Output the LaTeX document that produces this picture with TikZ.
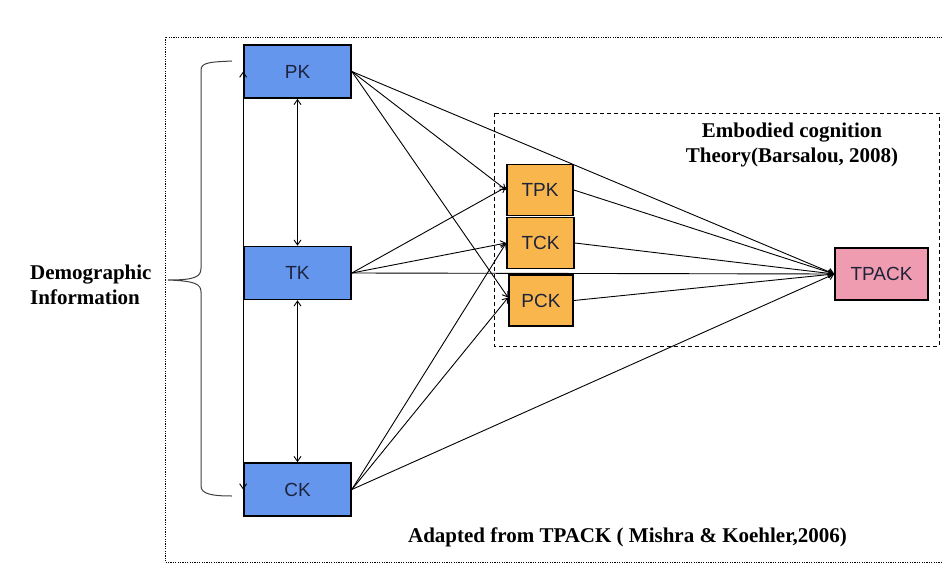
\documentclass[tikz,border=0pt]{standalone}
\usepackage{fontspec}
\setmainfont{Liberation Serif}
\setsansfont{Liberation Sans}
\usetikzlibrary{arrows.meta,calc}
\definecolor{kblue}{RGB}{100,150,238}
\definecolor{korange}{RGB}{248,182,76}
\definecolor{kpink}{RGB}{240,156,176}
\definecolor{ktext}{RGB}{30,35,60}
\begin{document}
\begin{tikzpicture}[x=1pt,y=-1pt,
  kbox/.style={draw=black,line width=1.7pt,inner sep=0pt,text=ktext,
    font=\sffamily\fontsize{19}{22}\selectfont},
  bluebox/.style={kbox,fill=kblue,minimum width=107pt,minimum height=53pt},
  orangebox/.style={kbox,fill=korange,minimum width=#1,minimum height=51pt},
  pinkbox/.style={kbox,fill=kpink,minimum width=93pt,minimum height=52pt},
  conn/.style={line width=0.9pt,-{Straight Barb[length=5pt,width=7pt]}},
  dconn/.style={line width=0.9pt,{Straight Barb[length=5pt,width=7pt]}-{Straight Barb[length=5pt,width=7pt]}},
  label/.style={font=\bfseries\fontsize{21}{25}\selectfont,text=black,inner sep=0pt}
]
\useasboundingbox (0,0) rectangle (942,564);
\fill[white] (0,0) rectangle (942,564);
% outer dotted frame
\draw[line width=0.8pt,dash pattern=on 1.2pt off 1.2pt] (945,37) -- (165,37) -- (165,562) -- (945,562);
% inner dashed frame
\draw[line width=0.8pt,dash pattern=on 4pt off 3pt] (494,113) rectangle (939,346);

% nodes
\node[bluebox] (PK) at (297.5,71.5) {PK};
\node[bluebox] (TK) at (297.5,273) {TK};
\node[bluebox] (CK) at (297.5,489.5) {CK};
\node[orangebox=66pt] (TPK) at (540,190) {TPK};
\node[orangebox=67pt] (TCK) at (540.5,243) {TCK};
\node[orangebox=64pt] (PCK) at (541,300.5) {PCK};
\node[pinkbox] (TPACK) at (881.5,274) {TPACK};

% labels
\node[label,align=left,anchor=west] (demo) at (30,285) {Demographic\\Information};
\node[label,align=center] (emb) at (792,145) {Embodied cognition\\Theory(Barsalou, 2008)};
\node[label] (adapt) at (627.5,537) {Adapted from TPACK ( Mishra \& Koehler,2006)};

% brace
\draw[line width=1pt,color=black!75] (232,61) .. controls (212,62) and (201,62) .. (201,70)
  -- (201,268) .. controls (201,277) and (195,280) .. (168,280)
  .. controls (195,281) and (201,284) .. (201,292)
  -- (201,486) .. controls (201,494) and (212,496) .. (232,496);

% vertical double arrows
\draw[dconn] (PK.west) -- (CK.west);
\draw[dconn] (PK.south) -- (TK.north);
\draw[dconn] (TK.south) -- (CK.north);

% from PK
\draw[conn] (PK.east) -- (TPK.west);
\draw[conn] (PK.east) -- ($(PCK.west)+(0,-3)$);
\draw[conn] (PK.east) -- (TPACK.west);
% from TK
\draw[conn] (TK.east) -- ($(TPK.west)+(0,-3)$);
\draw[conn] (TK.east) -- (TCK.west);
\draw[conn] (TK.east) -- (TPACK.west);
% from CK
\draw[conn] (CK.east) -- (TCK.west);
\draw[conn] (CK.east) -- ($(PCK.west)+(0,-3)$);
\draw[conn] (CK.east) -- (TPACK.west);
% from middle layer
\draw[conn] (TPK.east) -- (TPACK.west);
\draw[conn] (TCK.east) -- (TPACK.west);
\draw[conn] (PCK.east) -- (TPACK.west);
\end{tikzpicture}
\end{document}
